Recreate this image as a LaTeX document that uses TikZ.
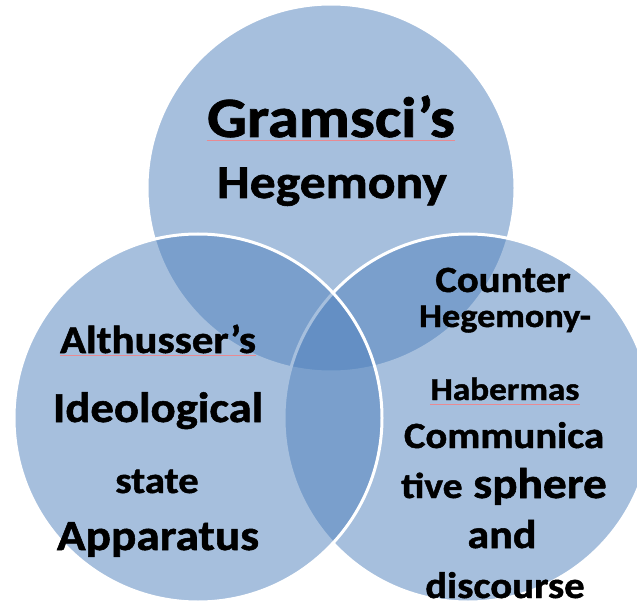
\documentclass[tikz,border=0pt]{standalone}
\usepackage{fontspec}
\setmainfont{Carlito}[FakeStretch=1.1,BoldFeatures={FakeBold=1.3}]
\usepackage{tikz}
\definecolor{Accent}{HTML}{4F81BD}
\definecolor{Squiggle}{HTML}{E88A92}
\tikzset{
  venn/.style={circle,draw=white,line width=3pt,fill=Accent,fill opacity=0.5,minimum size=368pt,inner sep=0pt},
  txt/.style={font=\bfseries\fontsize{#1}{#1}\selectfont,text=black,inner sep=0pt,anchor=base},
  squiggle/.style={draw=Squiggle,line width=0.7pt}
}
\begin{document}
\begin{tikzpicture}[x=1pt,y=-1pt]
\fill[white] (0,0) rectangle (637,604);
\useasboundingbox (0,0) rectangle (637,604);
\node[venn] (hegemony) at (331,188) {};
\node[venn] (counter) at (468,418) {};
\node[venn] (isa) at (198,418) {};
\node[txt=57] (gramsci) at (331,137) {Gramsci’s};
\node[txt=47] (hegem) at (332,198) {Hegemony};
\node[txt=39] (althusser) at (158,353) {Althusser’s};
\node[txt=42.5] (ideo) at (158,422) {Ideological};
\node[txt=37] (state) at (157,493) {state};
\node[txt=43] (appar) at (158,550) {Apparatus};
\node[txt=37] (countr) at (503,292) {Counter};
\node[txt=33] (hegdash) at (505,327) {Hegemony-};
\node[txt=32] (haber) at (505,400) {Habermas};
\node[txt=37] (commu) at (504,448) {Communica};
\node[txt=43] (tive) at (504,498) {{\fontsize{36}{36}\selectfont tive} sphere};
\node[txt=40] (andw) at (502,548) {and};
\node[txt=37] (disc) at (505,598) {discourse};
\draw[squiggle] ([yshift=-3pt]gramsci.base west) -- ([yshift=-3pt]gramsci.base east);
\draw[squiggle] ([yshift=-2pt]althusser.base west) -- ([yshift=-2pt]althusser.base east);
\draw[squiggle] ([yshift=-4pt]haber.base west) -- ([yshift=-4pt]haber.base east);
\end{tikzpicture}
\end{document}
